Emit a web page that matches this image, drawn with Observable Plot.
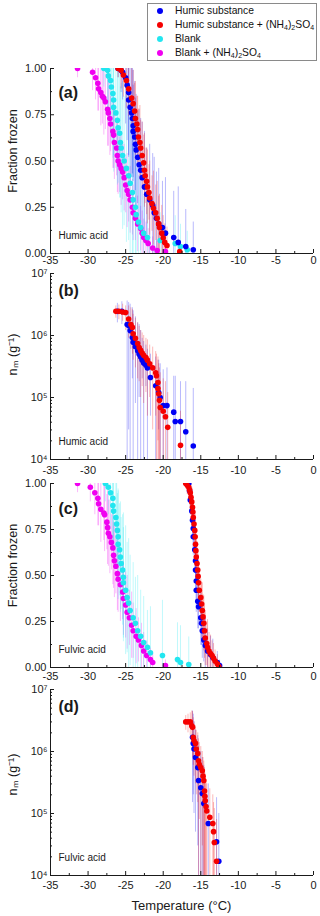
<!DOCTYPE html>
<html><head><meta charset="utf-8">
<script src="https://cdn.jsdelivr.net/npm/d3@7"></script>
<script src="https://cdn.jsdelivr.net/npm/@observablehq/plot@0.6"></script>
<style>
body{margin:0;background:#fff;font-family:"Liberation Sans",Arial,sans-serif;}
#wrap{position:relative;width:320px;height:916px;overflow:hidden;}
.panel{position:absolute;left:0;}
#legend{position:absolute;left:147px;top:3px;width:170px;height:58px;border:1px solid #8a8a8a;box-sizing:border-box;background:#fff;font-size:10.3px;color:#111;z-index:3;}
#legend .row{position:absolute;left:0;height:14px;line-height:14px;white-space:nowrap;}
#legend .dot{position:absolute;left:9px;top:4px;width:6px;height:6px;border-radius:50%;}
#legend .txt{position:absolute;left:27px;top:0;}
#legend sub{font-size:7px;vertical-align:-2px;line-height:0;}
#caption{position:absolute;left:50px;width:263px;top:898px;text-align:center;font-size:13px;color:#1a1a1a;}
</style></head>
<body>
<div id="wrap">
  <div id="legend"></div>
  <div class="panel" id="pa" style="top:0px"></div>
  <div class="panel" id="pb" style="top:270px"></div>
  <div class="panel" id="pc" style="top:477px"></div>
  <div class="panel" id="pd" style="top:685px"></div>
  <div id="caption">Temperature (°C)</div>
</div>
<script>
// ---------- series names & colours ----------
const seriesNames = ["Humic substance", "Humic substance + (NH<sub>4</sub>)<sub>2</sub>SO<sub>4</sub>", "Blank", "Blank + (NH<sub>4</sub>)<sub>2</sub>SO<sub>4</sub>"];
const seriesColors = ["#0000f5", "#f50000", "#22e6f0", "#f000f0"];

// ---------- axis ticks ----------
const tempTicks = [-35, -30, -25, -20, -15, -10, -5, 0];
const tempMinor = [-32.5, -27.5, -22.5, -17.5, -12.5, -7.5, -2.5];
const fracTicks = [0, 0.25, 0.5, 0.75, 1];
const fracMinor = [0.125, 0.375, 0.625, 0.875];
const logTicks = [1e4, 1e5, 1e6, 1e7];
const logMinor = [2e4,3e4,4e4,5e4,6e4,7e4,8e4,9e4,2e5,3e5,4e5,5e5,6e5,7e5,8e5,9e5,2e6,3e6,4e6,5e6,6e6,7e6,8e6,9e6];

// ---------- (a) Humic acid, fraction frozen: [T, f, err] ----------
const humicA = [[-26.0,1.00,0.05],[-25.6,0.99,0.12],[-25.4,0.98,0.15],[-25.0,0.95,0.25],[-24.8,0.91,0.3],[-24.6,0.87,0.35],[-24.6,0.83,0.3],[-24.4,0.79,0.4],[-24.2,0.76,0.35],[-24.1,0.73,0.3],[-24.0,0.69,0.3],[-24.0,0.66,0.25],[-23.8,0.63,0.3],[-23.7,0.59,0.25],[-23.6,0.56,0.3],[-23.4,0.52,0.25],[-23.2,0.48,0.3],[-23.0,0.45,0.28],[-22.8,0.41,0.3],[-22.5,0.36,0.3],[-22.2,0.32,0.25],[-21.8,0.29,0.3],[-21.4,0.26,0.28],[-21.2,0.22,0.3],[-20.9,0.19,0.25],[-20.6,0.16,0.3],[-20.1,0.14,0.25],[-19.7,0.11,0.3],[-18.6,0.086,0.25],[-18.0,0.06,0.3],[-17.0,0.038,0.2],[-16.0,0.02,0.15]];
const humicASA = [[-26.0,1.00,0.05],[-25.6,0.99,0.1],[-25.3,0.965,0.12],[-24.9,0.935,0.15],[-24.6,0.89,0.15],[-24.2,0.84,0.2],[-24.0,0.81,0.18],[-23.8,0.77,0.15],[-23.7,0.73,0.2],[-23.5,0.70,0.15],[-23.4,0.67,0.18],[-23.3,0.63,0.15],[-23.1,0.60,0.2],[-23.0,0.57,0.15],[-22.8,0.53,0.18],[-22.6,0.49,0.15],[-22.5,0.45,0.2],[-22.4,0.42,0.15],[-22.2,0.39,0.18],[-22.1,0.36,0.2],[-21.9,0.33,0.15],[-21.8,0.30,0.2],[-21.5,0.27,0.15],[-21.3,0.245,0.2],[-21.0,0.22,0.15],[-20.8,0.19,0.2],[-20.6,0.16,0.15],[-20.5,0.14,0.18],[-20.2,0.11,0.15],[-20.0,0.085,0.12],[-19.8,0.06,0.1],[-19.5,0.043,0.1],[-17.8,0.01,0.05]];
const blankA = [[-27.9,1.00,0.1],[-27.4,0.99,0.2],[-27.3,0.96,0.25],[-27.0,0.935,0.3],[-26.9,0.90,0.3],[-26.7,0.865,0.35],[-26.6,0.83,0.3],[-26.6,0.79,0.35],[-26.3,0.76,0.3],[-26.1,0.72,0.35],[-26.0,0.68,0.3],[-25.8,0.65,0.35],[-25.7,0.60,0.3],[-25.6,0.57,0.35],[-25.4,0.53,0.4],[-25.2,0.50,0.35],[-24.9,0.46,0.4],[-24.6,0.42,0.35],[-24.4,0.38,0.4],[-24.1,0.33,0.35],[-24.0,0.29,0.3],[-23.7,0.25,0.3],[-23.6,0.21,0.25],[-23.3,0.17,0.25],[-23.0,0.14,0.2],[-22.6,0.11,0.2],[-22.1,0.086,0.2],[-20.4,0.07,0.15],[-18.4,0.054,0.15],[-17.7,0.038,0.12],[-16.8,0.02,0.1]];
const blankASA = [[-31.4,1.00,0.05],[-29.4,0.98,0.1],[-29.0,0.95,0.12],[-28.7,0.92,0.15],[-28.6,0.89,0.12],[-28.3,0.87,0.18],[-28.1,0.85,0.15],[-27.9,0.84,0.2],[-27.7,0.82,0.15],[-27.4,0.78,0.2],[-27.3,0.76,0.18],[-27.1,0.73,0.2],[-27.0,0.70,0.15],[-26.7,0.66,0.2],[-26.6,0.64,0.18],[-26.5,0.60,0.2],[-26.2,0.57,0.15],[-26.1,0.53,0.2],[-26.0,0.50,0.18],[-25.8,0.48,0.15],[-25.6,0.46,0.2],[-25.4,0.44,0.15],[-25.2,0.41,0.18],[-25.0,0.37,0.15],[-24.8,0.34,0.2],[-24.6,0.32,0.15],[-24.4,0.29,0.18],[-24.1,0.25,0.15],[-24.0,0.22,0.15],[-23.7,0.19,0.12],[-23.4,0.16,0.15],[-23.0,0.135,0.12],[-22.8,0.11,0.12],[-22.6,0.086,0.1],[-22.3,0.07,0.1],[-22.0,0.054,0.08],[-21.4,0.03,0.06],[-20.8,0.016,0.05],[-19.7,0.01,0.04]];

// ---------- (b) Humic acid, n_m: [T, n, low, high] ----------
const humicB = [[-26.1,2.45e6,1.6e6,3.3e6],[-25.5,2.45e6,1.5e6,3.5e6],[-24.8,1.5e6,5e3,3.6e6],[-24.6,1.45e6,3e4,3.4e6],[-24.4,1.2e6,5e3,3.2e6],[-24.1,9.3e5,2e5,2.8e6],[-24.0,7.8e5,5e3,2.5e6],[-23.7,6.6e5,8e4,2.0e6],[-23.4,5.7e5,5e3,1.6e6],[-23.2,5.0e5,1e5,1.5e6],[-23.0,4.5e5,5e3,1.2e6],[-22.8,4.0e5,2e5,9e5],[-22.6,3.6e5,5e3,8e5],[-22.3,3.3e5,1.5e5,7e5],[-22.1,3.0e5,5e3,6e5],[-21.7,2.1e5,5e4,5e5],[-21.0,1.55e5,5e3,4.5e5],[-20.6,1.2e5,3e4,4e5],[-20.4,1.0e5,5e3,3.5e5],[-20.0,7.4e4,5e3,2.8e5],[-19.5,7.4e4,5e3,3.0e5],[-18.6,5.8e4,5e3,2.2e5],[-18.4,4.1e4,5e3,2.2e5],[-17.7,4.1e4,5e3,1.8e5],[-17.0,2.8e4,5e3,1.8e5],[-16.0,1.65e4,5e3,1.4e5]];
const humicASB = [[-26.3,2.45e6,1.9e6,3.0e6],[-25.9,2.45e6,1.8e6,3.1e6],[-25.4,2.4e6,1.7e6,3.2e6],[-25.0,2.35e6,1.2e6,3.0e6],[-24.6,1.85e6,9e5,3.0e6],[-24.3,1.5e6,6e5,2.8e6],[-24.1,1.35e6,5e5,2.6e6],[-24.0,1.07e6,4e5,2.2e6],[-23.7,9.0e5,3e5,1.9e6],[-23.4,7.4e5,2e5,1.6e6],[-23.2,6.4e5,1.8e5,1.4e6],[-23.0,5.75e5,1e5,1.2e6],[-22.8,5.2e5,1.5e5,1.1e6],[-22.6,4.8e5,8e4,1.0e6],[-22.3,4.4e5,1.2e5,9e5],[-22.1,4.0e5,5e4,8.5e5],[-21.8,3.5e5,1e5,7e5],[-21.4,3.0e5,3e4,6.5e5],[-21.0,2.5e5,5e4,5.5e5],[-20.9,2.24e5,5e3,5e5],[-20.7,1.75e5,5e3,4.5e5],[-20.7,1.4e5,2e4,4e5],[-20.6,1.15e5,5e3,3.5e5],[-20.5,9.0e4,1e4,3e5],[-20.4,6.9e4,5e3,2.5e5],[-20.0,6.0e4,1e4,2e5],[-19.7,4.9e4,5e3,1.8e5],[-19.4,3.3e4,5e3,1.2e5],[-17.7,1.7e4,5e3,6e4]];

// ---------- (c) Fulvic acid, fraction frozen: [T, f, err] ----------
const fulvicC = [[-16.6,1.00,0.03],[-16.5,0.96,0.06],[-16.4,0.91,0.08],[-16.2,0.85,0.1],[-16.1,0.80,0.1],[-16.0,0.755,0.12],[-16.0,0.71,0.1],[-15.8,0.64,0.12],[-15.7,0.58,0.1],[-15.7,0.53,0.12],[-15.6,0.47,0.1],[-15.6,0.42,0.12],[-15.4,0.36,0.15],[-15.3,0.33,0.12],[-15.0,0.27,0.15],[-14.9,0.24,0.12],[-14.8,0.20,0.15],[-14.6,0.15,0.12],[-14.4,0.12,0.15],[-14.1,0.09,0.12],[-13.7,0.07,0.1],[-13.4,0.054,0.1],[-12.8,0.027,0.06],[-12.5,0.01,0.03]];
const fulvicASC = [[-17.0,1.00,0.03],[-16.8,0.99,0.05],[-16.6,0.98,0.06],[-16.5,0.965,0.08],[-16.4,0.95,0.08],[-16.3,0.925,0.1],[-16.2,0.90,0.08],[-16.1,0.87,0.1],[-16.05,0.845,0.08],[-16.0,0.815,0.1],[-15.9,0.78,0.08],[-15.8,0.745,0.1],[-15.75,0.71,0.12],[-15.7,0.67,0.1],[-15.65,0.635,0.12],[-15.6,0.60,0.1],[-15.5,0.565,0.12],[-15.4,0.53,0.1],[-15.35,0.495,0.12],[-15.3,0.46,0.1],[-15.2,0.42,0.12],[-15.0,0.38,0.1],[-14.9,0.345,0.12],[-14.8,0.31,0.15],[-14.7,0.275,0.12],[-14.6,0.24,0.15],[-14.5,0.20,0.15],[-14.4,0.16,0.15],[-14.2,0.13,0.12],[-14.1,0.11,0.15],[-13.9,0.09,0.1],[-13.7,0.076,0.1],[-13.5,0.065,0.08],[-13.3,0.05,0.08],[-13.1,0.035,0.06],[-12.8,0.02,0.05],[-12.6,0.005,0.03]];
const blankC = [[-27.7,1.00,0.1],[-27.3,0.98,0.15],[-27.0,0.95,0.2],[-26.7,0.92,0.25],[-26.7,0.88,0.2],[-26.6,0.85,0.25],[-26.3,0.815,0.2],[-26.2,0.78,0.25],[-26.1,0.745,0.2],[-26.0,0.71,0.25],[-26.0,0.67,0.3],[-25.8,0.64,0.25],[-25.7,0.60,0.3],[-25.6,0.565,0.25],[-25.4,0.53,0.3],[-25.3,0.49,0.35],[-25.3,0.46,0.3],[-25.0,0.42,0.35],[-24.8,0.38,0.3],[-24.6,0.35,0.35],[-24.4,0.31,0.3],[-24.0,0.27,0.3],[-23.7,0.24,0.25],[-23.4,0.20,0.3],[-23.0,0.17,0.25],[-22.6,0.136,0.25],[-22.1,0.11,0.2],[-21.7,0.08,0.25],[-20.1,0.065,0.3],[-18.1,0.043,0.2],[-17.7,0.027,0.2],[-16.6,0.016,0.15]];
const blankASC = [[-31.4,1.00,0.05],[-29.7,0.98,0.08],[-29.1,0.95,0.12],[-28.7,0.92,0.15],[-28.6,0.89,0.12],[-28.3,0.86,0.18],[-27.9,0.84,0.15],[-27.8,0.83,0.2],[-27.5,0.79,0.15],[-27.4,0.76,0.2],[-27.3,0.73,0.18],[-27.1,0.71,0.2],[-26.9,0.68,0.15],[-26.7,0.65,0.2],[-26.6,0.61,0.18],[-26.5,0.58,0.2],[-26.3,0.55,0.15],[-26.1,0.51,0.2],[-26.0,0.48,0.18],[-25.7,0.45,0.2],[-25.4,0.41,0.15],[-25.3,0.375,0.2],[-25.0,0.34,0.18],[-24.8,0.30,0.2],[-24.5,0.27,0.15],[-24.2,0.23,0.18],[-24.0,0.20,0.15],[-23.6,0.17,0.15],[-23.3,0.15,0.12],[-22.9,0.12,0.12],[-22.6,0.09,0.1],[-22.2,0.065,0.08],[-21.7,0.043,0.06],[-21.4,0.027,0.05],[-19.7,0.011,0.03]];

// ---------- (d) Fulvic acid, n_m: [T, n, low, high] ----------
const fulvicD = [[-16.1,1.7e6,1.5e5,4.5e6],[-16.0,1.35e6,2e5,4e6],[-15.9,1.1e6,1e5,3e6],[-15.7,8.0e5,5e4,2.2e6],[-15.4,5.5e5,3e4,1.8e6],[-15.3,3.4e5,5e3,1.2e6],[-15.0,2.6e5,5e3,1.0e6],[-14.8,2.1e5,5e3,8e5],[-14.6,1.45e5,5e3,6e5],[-14.0,6.9e4,5e3,3e5],[-12.9,3.5e4,5e3,1.8e5],[-12.6,1.7e4,5e3,1e5]];
const fulvicASD = [[-17.0,3.0e6,2.2e6,3.8e6],[-16.7,3.0e6,2.0e6,4.0e6],[-16.4,3.0e6,1.8e6,4.2e6],[-16.2,2.6e6,1.2e6,4.5e6],[-16.1,2.45e6,8e5,4.4e6],[-16.0,1.7e6,6e5,3.5e6],[-15.9,1.5e6,4e5,3.0e6],[-15.7,1.35e6,3e5,2.6e6],[-15.6,1.1e6,2e5,2.2e6],[-15.4,9.3e5,1.5e5,2.0e6],[-15.3,7.1e5,5e3,1.6e6],[-15.2,6.2e5,8e4,1.4e6],[-15.0,5.5e5,5e3,1.2e6],[-14.8,4.9e5,3e4,1.0e6],[-14.7,4.0e5,5e3,8e5],[-14.6,3.4e5,5e3,7e5],[-14.5,2.3e5,1e4,5.5e5],[-14.45,1.9e5,5e3,4.5e5],[-14.4,1.6e5,5e3,4e5],[-14.3,1.3e5,1e4,3.5e5],[-14.2,1.1e5,5e3,3e5],[-13.8,8.7e4,5e3,2.5e5],[-13.4,6.9e4,5e3,2e5],[-13.3,5.1e4,5e3,1.5e5],[-13.2,3.4e4,5e3,1.2e5],[-12.9,1.7e4,5e3,8e4]];

// ---------- legend ----------
const legend = document.getElementById("legend");
seriesNames.forEach((name, i) => {
  const row = document.createElement("div");
  row.className = "row";
  row.style.top = (i * 14) + "px";
  row.innerHTML = `<span class="dot" style="background:${seriesColors[i]}"></span><span class="txt">${name}</span>`;
  legend.appendChild(row);
});

// ---------- helpers ----------
const AX = "#1a1a1a";
const sup = {4: "⁴", 5: "⁵", 6: "⁶", 7: "⁷"};
const style = {fontFamily: "'Liberation Sans', Arial, sans-serif", fontSize: "11px", background: "transparent", overflow: "visible", color: AX};

function xAxisMarks(pad) {
  return [
    Plot.axisX({ticks: tempTicks, tickSize: 4, dy: -4, fill: "none", stroke: AX}),
    Plot.axisX({ticks: tempMinor, tickSize: 2, dy: -2, fill: "none", stroke: AX}),
    Plot.axisX({ticks: tempTicks, tickSize: 0, tickPadding: pad, tickFormat: d => String(d), label: null, fontSize: 11})
  ];
}
function fracAxisMarks() {
  return [
    Plot.axisY({ticks: fracTicks, tickSize: 4, dx: 4, fill: "none", stroke: AX}),
    Plot.axisY({ticks: fracMinor, tickSize: 2, dx: 2, fill: "none", stroke: AX}),
    Plot.axisY({ticks: fracTicks, tickSize: 0, tickPadding: 4, tickFormat: d => d.toFixed(2), label: null, fontSize: 11})
  ];
}
function logAxisMarks() {
  return [
    Plot.axisY({ticks: logTicks, tickSize: 4, dx: 4, fill: "none", stroke: AX}),
    Plot.axisY({ticks: logMinor, tickSize: 2, dx: 2, fill: "none", stroke: AX}),
    Plot.axisY({ticks: logTicks, tickSize: 0, tickPadding: 3, tickFormat: d => "10" + sup[Math.round(Math.log10(d))], label: null, fontSize: 11})
  ];
}
function fracBars(rows, color) {
  return Plot.ruleX(rows, {x: d => d[0], y1: d => Math.max(0, d[1] - d[2]), y2: d => Math.min(1, d[1] + d[2]), stroke: color, strokeOpacity: 0.28, strokeWidth: 1, clip: true});
}
function fracDots(rows, color) {
  return Plot.dot(rows, {x: d => d[0], y: d => d[1], r: 2.8, fill: color, stroke: "none", clip: true});
}
function logBars(rows, color) {
  return Plot.ruleX(rows, {x: d => d[0], y1: d => d[2], y2: d => d[3], stroke: color, strokeOpacity: 0.28, strokeWidth: 1, clip: true});
}
function logDots(rows, color) {
  return Plot.dot(rows, {x: d => d[0], y: d => d[1], r: 2.8, fill: color, stroke: "none"});
}
function annot(tag, tagDy, note, ylabel, labelDy) {
  return [
    Plot.text([tag], {text: d => d, frameAnchor: "top-left", dx: 8, dy: tagDy, fontWeight: "bold", fontSize: 16, textAnchor: "start", fill: AX}),
    Plot.text([note], {text: d => d, frameAnchor: "bottom-left", dx: 8, dy: -15, fontSize: 10, textAnchor: "start", fill: AX}),
    Plot.text([ylabel], {text: d => d, frameAnchor: "left", dx: -38, dy: labelDy, rotate: -90, fontSize: 12.5, textAnchor: "middle", fill: AX})
  ];
}

const [cH, cHA, cB, cBA] = seriesColors;

// (a)
document.getElementById("pa").appendChild(Plot.plot({
  width: 320, height: 270, marginLeft: 50, marginRight: 7, marginTop: 68, marginBottom: 17, style,
  x: {domain: [-35, 0]}, y: {domain: [0, 1]},
  marks: [
    fracBars(blankASA, cBA), fracBars(blankA, cB), fracBars(humicA, cH), fracBars(humicASA, cHA),
    fracDots(blankASA, cBA), fracDots(blankA, cB), fracDots(humicA, cH), fracDots(humicASA, cHA),
    Plot.ruleX([-35], {stroke: AX}), Plot.ruleY([0], {stroke: AX}),
    ...xAxisMarks(3), ...fracAxisMarks(),
    ...annot("(a)", 18, "Humic acid", "Fraction frozen", -10)
  ]
}));

// (b)
document.getElementById("pb").appendChild(Plot.plot({
  width: 320, height: 207, marginLeft: 50, marginRight: 7, marginTop: 3, marginBottom: 18, style,
  x: {domain: [-35, 0]}, y: {type: "log", domain: [1e4, 1e7]},
  marks: [
    logBars(humicB, cH), logBars(humicASB, cHA),
    logDots(humicB, cH), logDots(humicASB, cHA),
    Plot.ruleX([-35], {stroke: AX}), Plot.ruleY([1e4], {stroke: AX}),
    ...xAxisMarks(7), ...logAxisMarks(),
    ...annot("(b)", 11, "Humic acid", "nₘ (g⁻¹)", -12)
  ]
}));

// (c)
document.getElementById("pc").appendChild(Plot.plot({
  width: 320, height: 208, marginLeft: 50, marginRight: 7, marginTop: 6, marginBottom: 18, style,
  x: {domain: [-35, 0]}, y: {domain: [0, 1]},
  marks: [
    fracBars(blankASC, cBA), fracBars(blankC, cB), fracBars(fulvicC, cH), fracBars(fulvicASC, cHA),
    fracDots(blankASC, cBA), fracDots(blankC, cB), fracDots(fulvicC, cH), fracDots(fulvicASC, cHA),
    Plot.ruleX([-35], {stroke: AX}), Plot.ruleY([0], {stroke: AX}),
    ...xAxisMarks(5), ...fracAxisMarks(),
    ...annot("(c)", 19, "Fulvic acid", "Fraction frozen", -10)
  ]
}));

// (d)
document.getElementById("pd").appendChild(Plot.plot({
  width: 320, height: 210, marginLeft: 50, marginRight: 7, marginTop: 4, marginBottom: 20, style,
  x: {domain: [-35, 0]}, y: {type: "log", domain: [1e4, 1e7]},
  marks: [
    logBars(fulvicD, cH), logBars(fulvicASD, cHA),
    logDots(fulvicD, cH), logDots(fulvicASD, cHA),
    Plot.ruleX([-35], {stroke: AX}), Plot.ruleY([1e4], {stroke: AX}),
    ...xAxisMarks(6), ...logAxisMarks(),
    ...annot("(d)", 11, "Fulvic acid", "nₘ (g⁻¹)", -8)
  ]
}));
</script>
</body></html>
